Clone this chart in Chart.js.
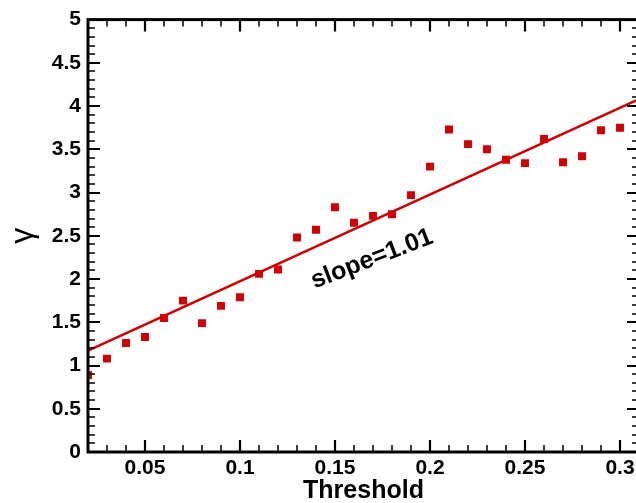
<!DOCTYPE html>
<html>
<head>
<meta charset="utf-8">
<script src="https://cdn.jsdelivr.net/npm/chart.js@4/dist/chart.umd.min.js"></script>
<style>
  html, body { margin: 0; padding: 0; background: #fff; overflow: hidden; }
  #wrap { width: 660px; height: 503px; }
</style>
</head>
<body>
<div id="wrap"><canvas id="chGamma" width="660" height="503"></canvas></div>
<script>
/* gamma vs threshold scatter with linear fit */

// data
var thresholds = [0.02, 0.03, 0.04, 0.05, 0.06, 0.07, 0.08, 0.09, 0.10, 0.11,
                  0.12, 0.13, 0.14, 0.15, 0.16, 0.17, 0.18, 0.19, 0.20, 0.21,
                  0.22, 0.23, 0.24, 0.25, 0.26, 0.27, 0.28, 0.29, 0.30];
var gammaValues = [0.89, 1.08, 1.26, 1.33, 1.55, 1.75, 1.49, 1.69, 1.79, 2.06,
                   2.11, 2.48, 2.57, 2.83, 2.65, 2.73, 2.75, 2.97, 3.30, 3.73,
                   3.56, 3.50, 3.38, 3.34, 3.62, 3.35, 3.42, 3.72, 3.75];

// fitted line end points
var fitX = [0.02, 0.31];
var fitY = [1.172, 4.08];
var fitLabel = 'slope=1.01';

// tick labels
var xTickLabels = [0.05, 0.1, 0.15, 0.2, 0.25, 0.3];
var yTickLabels = [0, 0.5, 1, 1.5, 2, 2.5, 3, 3.5, 4, 4.5, 5];

var red = '#d40000';
var tickFont = {family: 'Arial, "Liberation Sans"', size: 21, weight: 'bold'};

function findLabel(list, v) {
  for (var i = 0; i < list.length; i++) {
    if (Math.abs(list[i] - v) < 1e-6) return String(list[i]);
  }
  return null;
}

// frame, inward ticks and the slope text
var framePlugin = {
  id: 'frame',
  afterDraw: function(chart) {
    var ctx = chart.ctx, a = chart.chartArea;
    var xs = chart.scales.x, ys = chart.scales.y;
    ctx.save();
    ctx.strokeStyle = '#000';
    ctx.lineWidth = 3;
    ctx.strokeRect(a.left, a.top, a.right - a.left, a.bottom - a.top);

    xs.ticks.forEach(function(t) {
      var px = Math.round(xs.getPixelForValue(t.value));
      var major = findLabel(xTickLabels, t.value) !== null;
      var len = major ? 12 : 7;
      ctx.lineWidth = major ? 2.2 : 1.5;
      ctx.beginPath();
      ctx.moveTo(px, a.bottom); ctx.lineTo(px, a.bottom - len);
      ctx.moveTo(px, a.top); ctx.lineTo(px, a.top + len);
      ctx.stroke();
    });
    ys.ticks.forEach(function(t) {
      var py = Math.round(ys.getPixelForValue(t.value));
      var major = findLabel(yTickLabels, t.value) !== null;
      var len = major ? 12 : 7;
      ctx.lineWidth = major ? 2.2 : 1.5;
      ctx.beginPath();
      ctx.moveTo(a.left, py); ctx.lineTo(a.left + len, py);
      ctx.moveTo(a.right, py); ctx.lineTo(a.right - len, py);
      ctx.stroke();
    });

    // slope annotation
    var tx = xs.getPixelForValue(0.1695), ty = ys.getPixelForValue(2.23);
    ctx.translate(tx, ty);
    ctx.rotate(-21 * Math.PI / 180);
    ctx.fillStyle = '#000';
    ctx.font = 'bold 25px Arial, "Liberation Sans"';
    ctx.textAlign = 'center';
    ctx.textBaseline = 'middle';
    ctx.fillText(fitLabel, 0, 0);
    ctx.restore();
  }
};

var chGamma = document.getElementById('chGamma');
if (chGamma) {
  new Chart(chGamma, {
    type: 'scatter',
    data: {
      datasets: [
        {
          data: thresholds.map(function(x, i) { return {x: x, y: gammaValues[i]}; }),
          backgroundColor: red,
          borderWidth: 0,
          pointStyle: 'rect',
          pointRadius: 5.6
        },
        {
          type: 'line',
          data: fitX.map(function(x, i) { return {x: x, y: fitY[i]}; }),
          borderColor: red,
          borderWidth: 2.6,
          pointRadius: 0,
          fill: false
        }
      ]
    },
    options: {
      responsive: false,
      animation: false,
      events: [],
      layout: {padding: {top: 17, right: 21, left: 0, bottom: 0}},
      plugins: {legend: {display: false}, tooltip: {enabled: false}},
      scales: {
        x: {
          type: 'linear',
          min: 0.02, max: 0.31,
          grid: {display: false, drawTicks: false},
          border: {display: false},
          ticks: {
            stepSize: 0.01, autoSkip: false, maxRotation: 0, padding: 4,
            color: '#000', font: tickFont,
            callback: function(v) { return findLabel(xTickLabels, v) || ''; }
          },
          title: {
            display: true, text: 'Threshold', color: '#000',
            font: {family: 'Arial, "Liberation Sans"', size: 25, weight: 'bold'},
            padding: {top: 0, bottom: -3}
          },
          afterFit: function(s) { s.height = 51; }
        },
        y: {
          min: 0, max: 5,
          grid: {display: false, drawTicks: false},
          border: {display: false},
          ticks: {
            stepSize: 0.1, autoSkip: false, padding: 7,
            color: '#000', font: tickFont,
            callback: function(v) { return findLabel(yTickLabels, v) || ''; }
          },
          title: {
            display: true, text: 'γ', color: '#000',
            font: {family: 'Arial, "Liberation Sans"', size: 32},
            padding: {top: 4, bottom: 0}
          },
          afterFit: function(s) { s.width = 88; }
        }
      }
    },
    plugins: [framePlugin]
  });
}
</script>
</body>
</html>
